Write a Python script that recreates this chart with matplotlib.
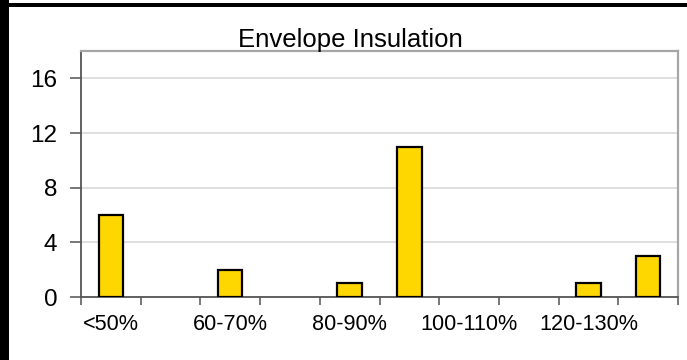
import matplotlib
matplotlib.use("Agg")
import matplotlib.pyplot as plt
from matplotlib.patches import Rectangle

categories = ["<50%", "50-60%", "60-70%", "70-80%", "80-90%", "90-100%",
              "100-110%", "110-120%", "120-130%", ">130%"]
counts = [6, 0, 2, 0, 1, 11, 0, 0, 1, 3]
yticks = [0, 4, 8, 12, 16]
title = "Envelope Insulation"

plt.rcParams['font.family'] = ['Liberation Sans', 'DejaVu Sans']

W, H = 687, 360
fig = plt.figure(figsize=(W / 100, H / 100), dpi=100)
fig.patch.set_facecolor("white")

# black frame bits (left and top)
fig.patches.append(Rectangle((0, 0), 9 / W, 1, transform=fig.transFigure,
                             facecolor="black", edgecolor="none", zorder=0))
fig.patches.append(Rectangle((0, 1 - 7 / H), 1, 4 / H, transform=fig.transFigure,
                             facecolor="black", edgecolor="none", zorder=0))

left, right, bottom, top = 81, 678, 297, 51
ax = fig.add_axes([left / W, 1 - bottom / H, (right - left) / W, (bottom - top) / H])

x = list(range(len(categories)))
bars = ax.bar(x, counts, width=0.41, color="#FFD700", edgecolor="black", linewidth=1.6, zorder=3)
for b, c in zip(bars, counts):
    if c == 0:
        b.set_visible(False)

ax.set_xlim(-0.5, len(categories) - 0.5)
ax.set_ylim(0, 18)
ax.set_yticks(yticks)
ax.set_yticklabels([str(v) for v in yticks], fontsize=17.5)
ax.yaxis.grid(True, color="#d9d9d9", linewidth=1.2, zorder=0)

# category boundary ticks
ax.set_xticks([i - 0.5 for i in range(len(categories) + 1)])
ax.set_xticklabels([])
ax.set_xticks(x, minor=True)
ax.set_xticklabels([c if i % 2 == 0 else "" for i, c in enumerate(categories)],
                   minor=True, fontsize=15.6)
ax.tick_params(axis="x", which="major", length=6, width=1.2, color="#606060", direction="out")
ax.tick_params(axis="x", which="minor", length=0, pad=12)
ax.tick_params(axis="y", length=8, width=1.2, color="#606060", pad=9)

for s in ["top", "right"]:
    ax.spines[s].set_color("#a6a6a6")
    ax.spines[s].set_linewidth(1.6)
for s in ["left", "bottom"]:
    ax.spines[s].set_color("#555555")
    ax.spines[s].set_linewidth(1.3)

fig.text(350 / W, 1 - 47 / H, title, ha="center", va="baseline", fontsize=18.5)

fig.savefig("out.png", dpi=100, facecolor="white")
